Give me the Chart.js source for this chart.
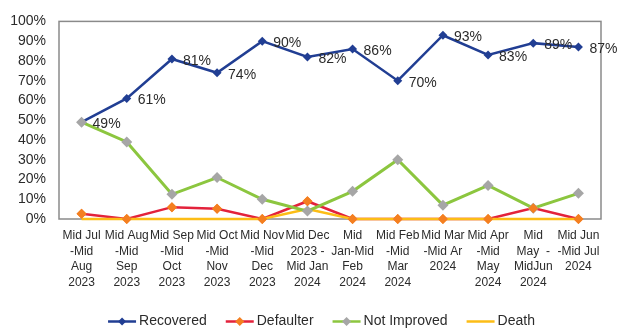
<!DOCTYPE html>
<html>
<head>
<meta charset="utf-8">
<script src="https://cdn.jsdelivr.net/npm/chart.js@4/dist/chart.umd.min.js"></script>
<style>
  html, body { margin: 0; padding: 0; background: #ffffff; }
  #wrap { width: 619px; height: 329px; }
</style>
</head>
<body>
<div id="wrap"><canvas id="c" width="619" height="329"></canvas></div>
<script>
// Reporting periods (multi-line axis labels)
const categories = [
  ["Mid Jul", "-Mid", "Aug", "2023"],
  ["Mid Aug", "-Mid", "Sep", "2023"],
  ["Mid Sep", "-Mid", "Oct", "2023"],
  ["Mid Oct", "-Mid", "Nov", "2023"],
  ["Mid Nov", "-Mid", "Dec", "2023"],
  ["Mid Dec", "2023 -", "Mid Jan", "2024"],
  ["Mid", "Jan-Mid", "Feb", "2024"],
  ["Mid Feb", "-Mid", "Mar", "2024"],
  ["Mid Mar", "-Mid Ar", "2024"],
  ["Mid Apr", "-Mid", "May", "2024"],
  ["Mid", "May  -", "MidJun", "2024"],
  ["Mid Jun", "-Mid Jul", "2024"]
];

// Outcome shares, in percent
const recovered   = [49, 61, 81, 74, 90, 82, 86, 70, 93, 83, 89, 87];
const defaulter   = [2.6, 0, 6, 5.2, 0, 9, 0, 0, 0, 0, 5.5, 0];
const notImproved = [49, 39, 12.5, 21, 10, 4, 14, 30, 7, 17, 5.5, 13];
const death       = [0, 0, 0, 0, 0, 5, 0, 0, 0, 0, 0, 0];

// Y axis tick values
const yTicks = [0, 10, 20, 30, 40, 50, 60, 70, 80, 90, 100];

const FONT = "'Liberation Sans', Arial, sans-serif";
const TEXT = '#2b2b2b';

const legendItems = [
  { label: 'Recovered',    line: '#213e93', marker: '#213e93', width: 2.5, r: 4 },
  { label: 'Defaulter',    line: '#e3223b', marker: '#f47f20', width: 2.5, r: 4.5 },
  { label: 'Not Improved', line: '#8cc63f', marker: '#a6a6a6', width: 2.5, r: 4.5 },
  { label: 'Death',        line: '#fcbd16', marker: null,      width: 2.5, r: 0 }
];

// Gray frame around the plotting area
const frame = {
  id: 'frame',
  beforeDatasetsDraw(chart) {
    const { ctx, chartArea: a } = chart;
    ctx.save();
    ctx.strokeStyle = '#8a8a8a';
    ctx.lineWidth = 1.5;
    ctx.strokeRect(a.left, a.top, a.right - a.left, a.bottom - a.top);
    ctx.restore();
  }
};

// Defaulter markers sit above every line
const markersOnTop = {
  id: 'markersOnTop',
  afterDatasetsDraw(chart) {
    const meta = chart.getDatasetMeta(1);
    meta.data.forEach(p => p.draw(chart.ctx));
  }
};

// Percentage labels beside each Recovered point
const valueLabels = {
  id: 'valueLabels',
  afterDatasetsDraw(chart) {
    const { ctx } = chart;
    const meta = chart.getDatasetMeta(0);
    ctx.save();
    ctx.font = '14px ' + FONT;
    ctx.fillStyle = TEXT;
    ctx.textAlign = 'left';
    ctx.textBaseline = 'middle';
    meta.data.forEach((p, i) => {
      ctx.fillText(recovered[i] + '%', p.x + 11, p.y + 2);
    });
    ctx.restore();
  }
};

// Legend row: line sample with marker, then label
const bottomLegend = {
  id: 'bottomLegend',
  afterDraw(chart) {
    const { ctx } = chart;
    ctx.save();
    ctx.font = '14px ' + FONT;
    const lineLen = 28, gapText = 3, gapItem = 19;
    const widths = legendItems.map(it => lineLen + gapText + ctx.measureText(it.label).width);
    const total = widths.reduce((s, w) => s + w, 0) + gapItem * (legendItems.length - 1);
    let x = chart.width / 2 + 12 - total / 2;
    const y = chart.height - 7.5;
    legendItems.forEach((it, i) => {
      ctx.strokeStyle = it.line;
      ctx.lineWidth = it.width;
      ctx.beginPath();
      ctx.moveTo(x, y);
      ctx.lineTo(x + lineLen, y);
      ctx.stroke();
      if (it.marker) {
        const cx = x + lineLen / 2;
        ctx.fillStyle = it.marker;
        ctx.beginPath();
        ctx.moveTo(cx, y - it.r);
        ctx.lineTo(cx + it.r, y);
        ctx.lineTo(cx, y + it.r);
        ctx.lineTo(cx - it.r, y);
        ctx.closePath();
        ctx.fill();
      }
      ctx.fillStyle = TEXT;
      ctx.textAlign = 'left';
      ctx.textBaseline = 'middle';
      ctx.fillText(it.label, x + lineLen + gapText, y);
      x += widths[i] + gapItem;
    });
    ctx.restore();
  }
};

new Chart(document.getElementById('c'), {
  type: 'line',
  data: {
    labels: categories,
    datasets: [
      {
        label: 'Recovered', data: recovered, order: 3,
        borderColor: '#213e93', backgroundColor: '#213e93', borderWidth: 2.5,
        pointStyle: 'rectRot', pointRadius: 4.5, pointBorderWidth: 0,
        pointBackgroundColor: '#213e93', tension: 0, clip: false
      },
      {
        label: 'Defaulter', data: defaulter, order: 2,
        borderColor: '#e3223b', backgroundColor: '#f47f20', borderWidth: 2.5,
        pointStyle: 'rectRot', pointRadius: 5, pointBorderWidth: 0,
        pointBackgroundColor: '#f47f20', tension: 0, clip: false
      },
      {
        label: 'Not Improved', data: notImproved, order: 0,
        borderColor: '#8cc63f', backgroundColor: '#a6a6a6', borderWidth: 3,
        pointStyle: 'rectRot', pointRadius: 5.5, pointBorderWidth: 0,
        pointBackgroundColor: '#a6a6a6', tension: 0, clip: false
      },
      {
        label: 'Death', data: death, order: 1,
        borderColor: '#fcbd16', backgroundColor: '#fcbd16', borderWidth: 2.5,
        pointRadius: 0, tension: 0, clip: false
      }
    ]
  },
  options: {
    responsive: false,
    animation: false,
    events: [],
    layout: { padding: { top: 19, right: 18, left: 0, bottom: 0 } },
    plugins: {
      legend: { display: false },
      tooltip: { enabled: false }
    },
    scales: {
      x: {
        offset: true,
        grid: { display: false, drawTicks: false },
        border: { display: false },
        ticks: {
          color: TEXT, padding: 9, maxRotation: 0, autoSkip: false,
          font: { family: FONT, size: 12, lineHeight: 1.3 }
        },
        afterFit(scale) { scale.height = 110; }
      },
      y: {
        min: 0, max: 100,
        grid: { display: false, drawTicks: false },
        border: { display: false },
        afterBuildTicks(scale) { scale.ticks = yTicks.map(v => ({ value: v })); },
        ticks: {
          color: TEXT, padding: 13, autoSkip: false,
          font: { family: FONT, size: 14 },
          callback: v => v + '%'
        },
        afterFit(scale) { scale.width = 59; }
      }
    }
  },
  plugins: [frame, markersOnTop, valueLabels, bottomLegend]
});
</script>
</body>
</html>
